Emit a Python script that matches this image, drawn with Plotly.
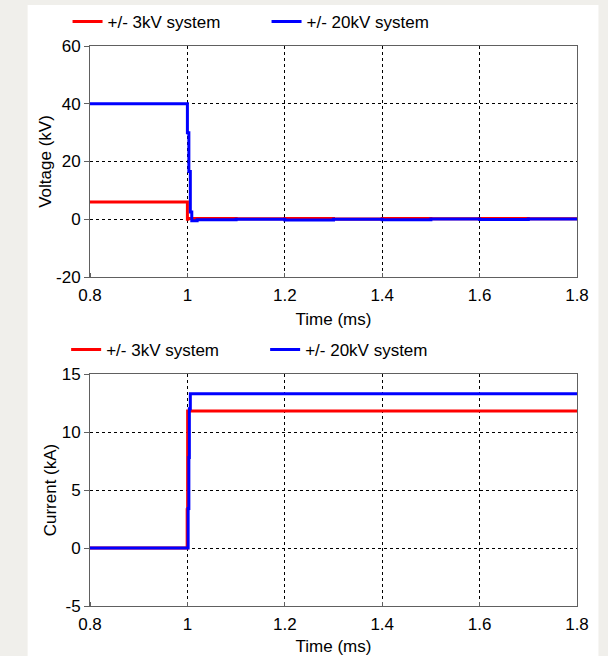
import plotly.graph_objects as go
from plotly.subplots import make_subplots

# ---- data ----
time_v3 = [0.80, 1.000, 1.001, 1.10, 1.20, 1.30, 1.40, 1.50, 1.60, 1.70, 1.80]
volt_3kv = [6.0, 0.0, 0.3, 0.2, 0.3, 0.1, 0.3, 0.2, 0.3, 0.2, 0.2]

time_v20 = [0.80, 1.000, 1.003, 1.006, 1.009, 1.02, 1.10, 1.20, 1.30, 1.40, 1.50, 1.60, 1.70, 1.80]
volt_20kv = [40.0, 30.0, 16.5, 2.5, -0.5, -0.2, 0.0, -0.3, 0.0, -0.2, 0.1, -0.1, 0.1, -0.1]

time_i3 = [0.80, 0.9995, 1.0005, 1.80]
curr_3kv = [0.0, 3.3, 11.8, 11.8]

time_i20 = [0.80, 1.0015, 1.003, 1.004, 1.006, 1.80]
curr_20kv = [0.0, 3.4, 7.8, 12.0, 13.3, 13.3]

x_ticks = [0.8, 1.0, 1.2, 1.4, 1.6, 1.8]
x_labels = ["0.8", "1", "1.2", "1.4", "1.6", "1.8"]
v_ticks = [-20, 0, 20, 40, 60]
v_labels = ["-20", "0", "20", "40", "60"]
i_ticks = [-5, 0, 5, 10, 15]
i_labels = ["-5", "0", "5", "10", "15"]

name_3 = "+/- 3kV system"
name_20 = "+/- 20kV system"
RED = "#ff0000"
BLUE = "#0000ff"

FONT = "Liberation Sans, Arial, sans-serif"
FS = 17

# pixel layout helpers
W, H = 608, 656
ML, MR, MT, MB = 89.5, 30.5, 46, 50
PW = W - ML - MR
PH = H - MT - MB


def px_x(p):
    return (p - ML) / PW


def px_y(p):
    return 1 - (p - MT) / PH


fig = make_subplots(rows=2, cols=1, shared_xaxes=False)

fig.add_trace(go.Scatter(x=time_v3, y=volt_3kv, name=name_3, mode="lines",
                         line=dict(color=RED, width=3, shape="hv"), legend="legend"),
              row=1, col=1)
fig.add_trace(go.Scatter(x=time_v20, y=volt_20kv, name=name_20, mode="lines",
                         line=dict(color=BLUE, width=3, shape="hv"), legend="legend"),
              row=1, col=1)
fig.add_trace(go.Scatter(x=time_i3, y=curr_3kv, name=name_3, mode="lines",
                         line=dict(color=RED, width=3, shape="hv"), legend="legend2"),
              row=2, col=1)
fig.add_trace(go.Scatter(x=time_i20, y=curr_20kv, name=name_20, mode="lines",
                         line=dict(color=BLUE, width=3, shape="hv"), legend="legend2"),
              row=2, col=1)

tfont = dict(size=FS, color="#000000", family=FONT)

common_x = dict(range=[0.8, 1.8], tickvals=x_ticks, ticktext=x_labels,
                showgrid=True, gridcolor="#000000", griddash="dot", gridwidth=1,
                showline=True, linecolor="#606060", linewidth=1, mirror=True,
                ticks="outside", ticklen=3, tickcolor="rgba(0,0,0,0)",
                minor=dict(tickvals=x_ticks, ticks="inside", ticklen=4, tickcolor="#606060", showgrid=False),
                zeroline=False, tickfont=tfont,
                title=dict(text="Time (ms)", font=tfont, standoff=8))
common_y = dict(showgrid=True, gridcolor="#000000", griddash="dot", gridwidth=1,
                showline=True, linecolor="#606060", linewidth=1, mirror=True,
                ticks="outside", ticklen=5, tickcolor="#606060",
                zeroline=False, tickfont=tfont)

top_dom = [px_y(277), 1.0]
bot_dom = [0.0, px_y(374)]

fig.update_xaxes(**common_x)
fig.update_yaxes(**common_y)
fig.update_layout(
    xaxis=dict(domain=[0, 1]),
    xaxis2=dict(domain=[0, 1]),
    yaxis=dict(domain=top_dom, range=[-20, 60], tickvals=v_ticks, ticktext=v_labels,
               title=dict(text="Voltage (kV)", font=tfont, standoff=0)),
    yaxis2=dict(domain=bot_dom, range=[-5, 15], tickvals=i_ticks, ticktext=i_labels,
                title=dict(text="Current (kA)", font=tfont, standoff=0)),
)

legend_common = dict(orientation="h", yanchor="middle",
                     bgcolor="rgba(0,0,0,0)", borderwidth=0,
                     font=tfont,
                     itemwidth=30, entrywidthmode="pixels", entrywidth=154,
                     itemclick=False, itemdoubleclick=False)

fig.update_layout(
    width=W, height=H,
    margin=dict(l=ML, r=MR, t=MT, b=MB, autoexpand=False),
    paper_bgcolor="#f0efeb",
    plot_bgcolor="#ffffff",
    font=dict(family=FONT, size=FS, color="#000000"),
    legend=dict(x=px_x(67), xanchor="left", y=px_y(22), **legend_common),
    legend2=dict(x=px_x(265), xanchor="center", y=px_y(350), **legend_common),
    shapes=[dict(type="rect", xref="paper", yref="paper", layer="below",
                 x0=px_x(27), x1=px_x(599), y0=px_y(660), y1=px_y(5),
                 fillcolor="#ffffff", line=dict(width=0))],
)

fig.write_html("out.html", config={"displayModeBar": False, "responsive": False},
               post_script="document.body.style.margin='0';")
